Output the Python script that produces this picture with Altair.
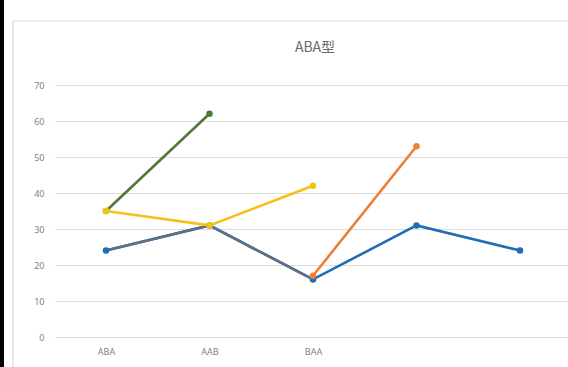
import altair as alt
import pandas as pd

title_text = "ABA型"
categories = ["ABA", "AAB", "BAA", "", ""]
shown_labels = ["ABA", "AAB", "BAA"]

series_names = ["blue", "gray", "green", "yellow", "orange"]
series_colors = ["#1F6EB3", "#5F6F86", "#4E7A34", "#F5C318", "#EC7F3A"]

blue_vals = [24, 31, 16, 31, 24]
gray_vals = [24, 31, 16, None, None]
green_vals = [35, 62, None, None, None]
yellow_vals = [35, 31, 42, None, None]
orange_vals = [None, None, 17, 53, None]

all_vals = [blue_vals, gray_vals, green_vals, yellow_vals, orange_vals]
marker_series = ["green", "yellow", "orange", "blue"]

rows = []
for name, vals in zip(series_names, all_vals):
    for i, v in enumerate(vals):
        if v is not None:
            rows.append({"series": name, "i": i, "cat": categories[i], "value": v})
df = pd.DataFrame(rows)

W, H = 513, 252
step = 103.5
x0 = -51 / step
x1 = x0 + W / step

xscale = alt.Scale(domain=[x0, x1], nice=False, zero=False)
yscale = alt.Scale(domain=[0, 70], nice=False)
cscale = alt.Scale(domain=series_names, range=series_colors)

label_expr = "datum.value == 0 ? 'ABA' : datum.value == 1 ? 'AAB' : datum.value == 2 ? 'BAA' : ''"

xaxis = alt.Axis(title=None, values=[0, 1, 2], labelExpr=label_expr, ticks=False,
                 domain=True, domainColor="#d9d9d9", labelColor="#7f7f7f",
                 labelFontSize=9, labelFont="Noto Sans", labelPadding=10,
                 grid=False, labelAngle=0)
yaxis = alt.Axis(title=None, values=[0, 10, 20, 30, 40, 50, 60, 70], ticks=False,
                 domain=False, grid=True, gridColor="#dedede", gridWidth=1,
                 labelColor="#7f7f7f", labelFontSize=9, labelFont="Noto Sans",
                 labelPadding=11, labelOverlap=False)

base = alt.Chart(df)

lines = base.mark_line(strokeWidth=2.6).encode(
    x=alt.X("i:Q", scale=xscale, axis=xaxis),
    y=alt.Y("value:Q", scale=yscale, axis=yaxis),
    color=alt.Color("series:N", scale=cscale, legend=None),
    detail="series:N",
    order="i:Q",
)

points = base.mark_circle(size=42, opacity=1).encode(
    x=alt.X("i:Q", scale=xscale, axis=xaxis),
    y=alt.Y("value:Q", scale=yscale, axis=yaxis),
    color=alt.Color("series:N", scale=cscale, legend=None),
).transform_filter(alt.FieldOneOfPredicate(field="series", oneOf=marker_series))

frame = alt.Chart(pd.DataFrame({"k": [0]})).mark_rect(
    fillOpacity=0, stroke="#d9d9d9", strokeWidth=1.2
).encode(x=alt.value(-42), x2=alt.value(560), y=alt.value(-64), y2=alt.value(400))

strip = alt.Chart(pd.DataFrame({"k": [0]})).mark_rect(fill="black").encode(
    x=alt.value(-55), x2=alt.value(-51), y=alt.value(-90), y2=alt.value(300)
)

title = alt.Chart(pd.DataFrame({"t": [title_text]})).mark_text(
    font="Noto Sans CJK JP", fontSize=14, color="#6b6b6b", align="center",
    baseline="middle", fontWeight="normal"
).encode(text="t:N", x=alt.value(260), y=alt.value(-37))

chart = alt.layer(frame, strip, lines, points, title).properties(
    width=W, height=H,
    autosize=alt.AutoSizeParams(type="none"),
    padding={"left": 55, "top": 85, "right": 0, "bottom": 30},
    background="white",
).configure_view(stroke=None)

chart.save("out.html", embed_options={"renderer": "svg", "actions": False})
